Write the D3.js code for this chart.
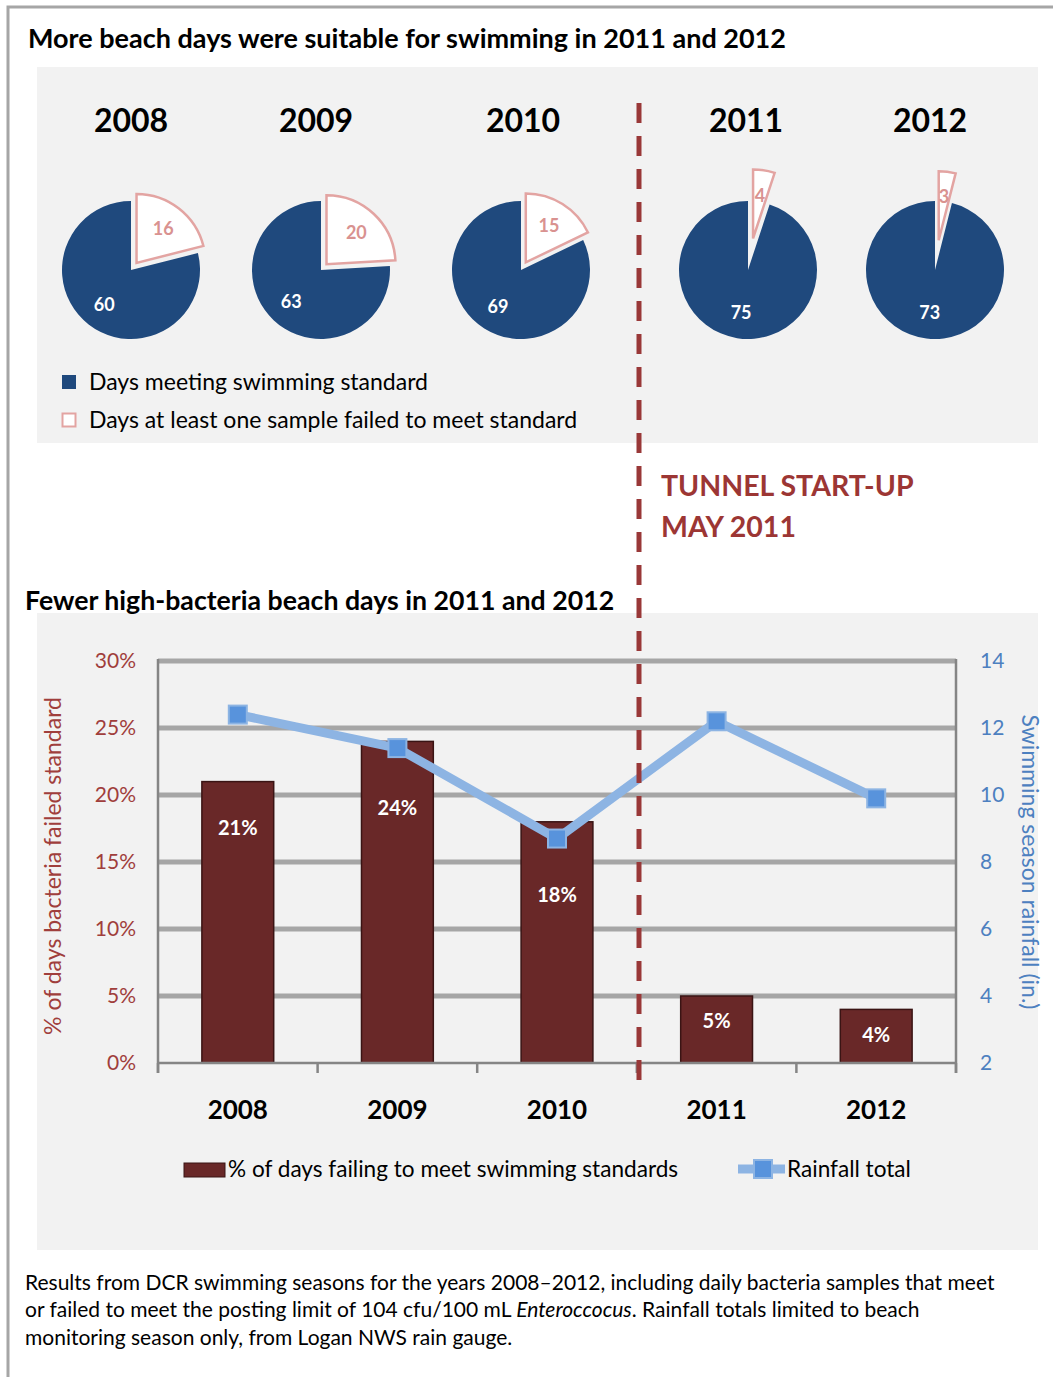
<!DOCTYPE html>
<html>
<head>
<meta charset="utf-8">
<script src="https://cdn.jsdelivr.net/npm/d3@7"></script>
<style>
  body { margin: 0; background: #fff; }
  svg { display: block; font-family: Lato, "Open Sans", sans-serif; }
</style>
</head>
<body>
<div id="chart-area"></div>
<script>
// data
var years = ["2008", "2009", "2010", "2011", "2012"];
var daysMet = [60, 63, 69, 75, 73];
var daysFailed = [16, 20, 15, 4, 3];
var pctFailed = [0.21, 0.24, 0.18, 0.05, 0.04];
var rainfall = [12.4, 11.4, 8.7, 12.2, 9.9];
var pctTicks = [0, 0.05, 0.10, 0.15, 0.20, 0.25, 0.30];
var rainTicks = [2, 4, 6, 8, 10, 12, 14];

// layout / style
var pieX = [131, 321, 521, 748, 935];
var yearX = [131, 316, 523, 746, 930];
var pieY = 270, pieR = 69;
var explode = [9, 8, 9, 32, 30];
var barLabelDrop = [46, 67, 73, 25, 26];

var blue = "#1f497d", pink = "#e3a4a2", pinkText = "#d99290",
    barCol = "#692828", redText = "#a03e3c", dashCol = "#993838",
    rainText = "#4d80c0", lineCol = "#8db4e3", markerCol = "#5893dc",
    gridCol = "#a6a6a6", axisCol = "#858585";

var svg = d3.select("#chart-area").append("svg")
    .attr("width", 1053)
    .attr("height", 1377);

// frame + panels
svg.append("path")
    .attr("d", "M8,1377 L8,7 L1053,7")
    .attr("fill", "none")
    .attr("stroke", "#a6a6a6")
    .attr("stroke-width", 3);

svg.append("rect").attr("x", 37).attr("y", 67).attr("width", 1001).attr("height", 376).attr("fill", "#f2f2f2");
svg.append("rect").attr("x", 37).attr("y", 613).attr("width", 1001).attr("height", 637).attr("fill", "#f2f2f2");

svg.append("text")
    .attr("x", 28).attr("y", 48)
    .style("font-size", "27px").style("font-weight", "bold")
    .text("More beach days were suitable for swimming in 2011 and 2012");

// ---------- pies ----------
var pie = d3.pie().sort(null);
var arc = d3.arc().innerRadius(0).outerRadius(pieR);

years.forEach(function (yr, i) {
    svg.append("text")
        .attr("x", yearX[i]).attr("y", 132)
        .attr("text-anchor", "middle")
        .style("font-size", "32px").style("font-weight", "bold")
        .text(yr);

    var g = svg.append("g").attr("transform", "translate(" + pieX[i] + "," + pieY + ")");
    var slices = pie([daysFailed[i], daysMet[i]]);

    // blue (met) slice
    var sb = slices[1];
    g.append("path").attr("d", arc(sb)).attr("fill", blue);
    var mb = (sb.startAngle + sb.endAngle) / 2;
    g.append("text")
        .attr("x", Math.sin(mb) * pieR * 0.63)
        .attr("y", -Math.cos(mb) * pieR * 0.63)
        .attr("dy", "0.35em")
        .attr("text-anchor", "middle")
        .attr("fill", "#fff")
        .style("font-size", "18px").style("font-weight", "bold")
        .text(daysMet[i]);

    // exploded pink (failed) slice
    var sp = slices[0];
    var mp = (sp.startAngle + sp.endAngle) / 2;
    var ex = Math.sin(mp) * explode[i], ey = -Math.cos(mp) * explode[i];
    var gp = g.append("g").attr("transform", "translate(" + ex + "," + ey + ")");
    gp.append("path").attr("d", arc(sp))
        .attr("fill", "#fff")
        .attr("stroke", pink)
        .attr("stroke-width", 2.5)
        .attr("stroke-linejoin", "miter");
    gp.append("text")
        .attr("x", Math.sin(mp) * pieR * 0.63)
        .attr("y", -Math.cos(mp) * pieR * 0.63)
        .attr("dy", "0.35em")
        .attr("text-anchor", "middle")
        .attr("fill", pinkText)
        .style("font-size", "18px").style("font-weight", "bold")
        .text(daysFailed[i]);
});

// pie legend
svg.append("rect").attr("x", 62).attr("y", 375).attr("width", 14).attr("height", 14).attr("fill", blue);
svg.append("text").attr("x", 89).attr("y", 390).style("font-size", "23px").text("Days meeting swimming standard");
svg.append("rect").attr("x", 62.5).attr("y", 413.5).attr("width", 13).attr("height", 13)
    .attr("fill", "#fff").attr("stroke", pink).attr("stroke-width", 2);
svg.append("text").attr("x", 89).attr("y", 428).style("font-size", "23px").text("Days at least one sample failed to meet standard");

// tunnel annotation
svg.append("text").attr("x", 661).attr("y", 496)
    .attr("fill", "#9c3634").style("font-size", "28.5px").style("font-weight", "bold")
    .text("TUNNEL START-UP");
svg.append("text").attr("x", 661).attr("y", 537)
    .attr("fill", "#9c3634").style("font-size", "28.5px").style("font-weight", "bold")
    .text("MAY 2011");

// ---------- bar + line chart ----------
svg.append("text")
    .attr("x", 25).attr("y", 610)
    .style("font-size", "26.7px").style("font-weight", "bold")
    .text("Fewer high-bacteria beach days in 2011 and 2012");

var plotL = 158, plotR = 956, plotT = 661, plotB = 1063;

var x = d3.scaleBand().domain(years).range([plotL, plotR]);
var y = d3.scaleLinear().domain([0, 0.30]).range([plotB, plotT]);
var yR = d3.scaleLinear().domain([2, 14]).range([plotB, plotT]);

// gridlines
svg.append("g").selectAll("line")
    .data(pctTicks.filter(function (d) { return d > 0; }))
    .enter().append("line")
    .attr("x1", plotL).attr("x2", plotR)
    .attr("y1", function (d) { return y(d); })
    .attr("y2", function (d) { return y(d); })
    .attr("stroke", gridCol)
    .attr("stroke-width", 5);

// axes
var yAxisGroup = svg.append("g")
    .attr("transform", "translate(" + plotL + ",0)")
    .call(d3.axisLeft(y).tickValues(pctTicks).tickFormat(d3.format(".0%")).tickSize(0).tickPadding(22));
yAxisGroup.select(".domain").remove();
yAxisGroup.selectAll("text").attr("fill", redText).style("font-size", "21px").style("font-family", "Lato, sans-serif");

var yRAxisGroup = svg.append("g")
    .attr("transform", "translate(" + plotR + ",0)")
    .call(d3.axisRight(yR).tickValues(rainTicks).tickSize(0).tickPadding(24));
yRAxisGroup.select(".domain").remove();
yRAxisGroup.selectAll("text").attr("fill", rainText).style("font-size", "21px").style("font-family", "Lato, sans-serif");

svg.append("line").attr("x1", plotL).attr("x2", plotL).attr("y1", plotT - 2).attr("y2", plotB + 10)
    .attr("stroke", axisCol).attr("stroke-width", 2.5);
svg.append("line").attr("x1", plotR).attr("x2", plotR).attr("y1", plotT - 2).attr("y2", plotB + 10)
    .attr("stroke", axisCol).attr("stroke-width", 2.5);

// bars
var barW = x.bandwidth() * 0.45;
svg.append("g").selectAll("rect")
    .data(pctFailed)
    .enter().append("rect")
    .attr("x", function (d, i) { return x(years[i]) + (x.bandwidth() - barW) / 2; })
    .attr("y", function (d) { return y(d); })
    .attr("width", barW)
    .attr("height", function (d) { return plotB - y(d); })
    .attr("fill", barCol)
    .attr("stroke", "#3a1414")
    .attr("stroke-width", 1.5);

svg.append("g").selectAll("text")
    .data(pctFailed)
    .enter().append("text")
    .attr("x", function (d, i) { return x(years[i]) + x.bandwidth() / 2; })
    .attr("y", function (d, i) { return y(d) + barLabelDrop[i]; })
    .attr("dy", "0.35em")
    .attr("text-anchor", "middle")
    .attr("fill", "#fff")
    .style("font-size", "20px").style("font-weight", "bold")
    .text(function (d) { return d3.format(".0%")(d); });

// x axis line + boundary ticks
svg.append("line").attr("x1", plotL).attr("x2", plotR).attr("y1", plotB).attr("y2", plotB)
    .attr("stroke", axisCol).attr("stroke-width", 2.5);
var bounds = years.map(function (d) { return x(d); }).concat([plotR]);
svg.append("g").selectAll("line")
    .data(bounds)
    .enter().append("line")
    .attr("x1", function (d) { return d; }).attr("x2", function (d) { return d; })
    .attr("y1", plotB).attr("y2", plotB + 10)
    .attr("stroke", axisCol).attr("stroke-width", 2.5);

svg.append("g").selectAll("text")
    .data(years)
    .enter().append("text")
    .attr("x", function (d) { return x(d) + x.bandwidth() / 2; })
    .attr("y", 1119)
    .attr("text-anchor", "middle")
    .style("font-size", "26px").style("font-weight", "bold")
    .text(function (d) { return d; });

// rainfall line
var line = d3.line()
    .x(function (d, i) { return x(years[i]) + x.bandwidth() / 2; })
    .y(function (d) { return yR(d); });

svg.append("path")
    .datum(rainfall)
    .attr("d", line)
    .attr("fill", "none")
    .attr("stroke", lineCol)
    .attr("stroke-width", 9)
    .attr("stroke-linejoin", "round");

svg.append("g").selectAll("rect")
    .data(rainfall)
    .enter().append("rect")
    .attr("x", function (d, i) { return x(years[i]) + x.bandwidth() / 2 - 9; })
    .attr("y", function (d) { return yR(d) - 9; })
    .attr("width", 18).attr("height", 18)
    .attr("fill", markerCol)
    .attr("stroke", lineCol)
    .attr("stroke-width", 2);

// axis titles
svg.append("text")
    .attr("transform", "translate(61,866) rotate(-90)")
    .attr("text-anchor", "middle")
    .attr("fill", redText)
    .style("font-size", "23px")
    .text("% of days bacteria failed standard");

svg.append("text")
    .attr("transform", "translate(1022,862) rotate(90)")
    .attr("text-anchor", "middle")
    .attr("fill", rainText)
    .style("font-size", "23px")
    .text("Swimming season rainfall (in.)");

// bottom legend
svg.append("rect").attr("x", 184).attr("y", 1163).attr("width", 41).attr("height", 14)
    .attr("fill", barCol).attr("stroke", "#3a1414").attr("stroke-width", 1);
svg.append("text").attr("x", 228).attr("y", 1177).style("font-size", "22.6px")
    .text("% of days failing to meet swimming standards");
svg.append("line").attr("x1", 738).attr("x2", 785).attr("y1", 1169).attr("y2", 1169)
    .attr("stroke", lineCol).attr("stroke-width", 9);
svg.append("rect").attr("x", 754).attr("y", 1160).attr("width", 18).attr("height", 18)
    .attr("fill", markerCol).attr("stroke", lineCol).attr("stroke-width", 2);
svg.append("text").attr("x", 787).attr("y", 1177).style("font-size", "22.6px").text("Rainfall total");

// dashed divider
svg.append("line")
    .attr("x1", 639).attr("x2", 639).attr("y1", 103).attr("y2", 1086)
    .attr("stroke", dashCol).attr("stroke-width", 5)
    .attr("stroke-dasharray", "20,13");

// footnote
var note = svg.append("g").style("font-size", "21px");
note.append("text").attr("x", 25).attr("y", 1290)
    .text("Results from DCR swimming seasons for the years 2008\u20132012, including daily bacteria samples that meet");
var l2 = note.append("text").attr("x", 25).attr("y", 1317);
l2.append("tspan").text("or failed to meet the posting limit of 104 cfu/100 mL ");
l2.append("tspan").style("font-style", "italic").text("Enteroccocus");
l2.append("tspan").text(". Rainfall totals limited to beach");
note.append("text").attr("x", 25).attr("y", 1345)
    .text("monitoring season only, from Logan NWS rain gauge.");
</script>
</body>
</html>
